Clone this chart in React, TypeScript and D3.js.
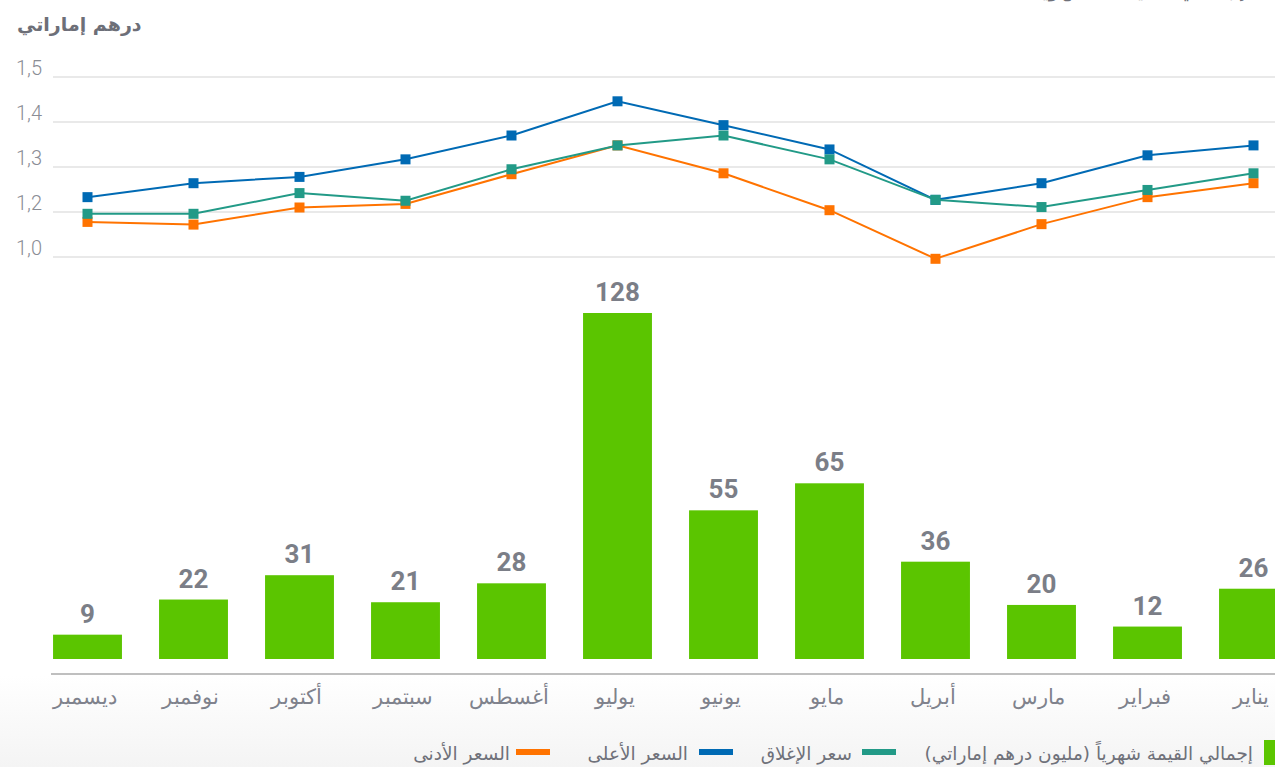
import React from "react";
import * as d3 from "d3";

const months = ["ديسمبر", "نوفمبر", "أكتوبر", "سبتمبر", "أغسطس", "يوليو", "يونيو", "مايو", "أبريل", "مارس", "فبراير", "يناير"];
const totals = [9, 22, 31, 21, 28, 128, 55, 65, 36, 20, 12, 26];
const highPrice = [1.233, 1.264, 1.278, 1.317, 1.37, 1.446, 1.393, 1.339, 1.227, 1.264, 1.326, 1.348];
const closePrice = [1.196, 1.196, 1.242, 1.225, 1.295, 1.348, 1.37, 1.317, 1.227, 1.211, 1.249, 1.286];
const lowPrice = [1.178, 1.172, 1.21, 1.218, 1.284, 1.348, 1.286, 1.204, 1.096, 1.173, 1.233, 1.264];
const priceTicks = [1.1, 1.2, 1.3, 1.4, 1.5];
const priceTickLabels = ["1,0", "1,2", "1,3", "1,4", "1,5"];
const legendLabels = ["إجمالي القيمة شهرياً (مليون درهم إماراتي)", "سعر الإغلاق", "السعر الأعلى", "السعر الأدنى"];

const GREEN = "#5bc500";
const BLUE = "#006ab4";
const TEAL = "#229a87";
const ORANGE = "#ff7300";
const ARABIC = "'DejaVu Sans', 'Noto Sans', sans-serif";

export default function App() {
  const W = 1275, H = 767;
  const x = d3.scaleBand<string>().domain(months).range([34.5, 1306.5]).paddingInner(0.35).paddingOuter(0.175);
  const yBar = d3.scaleLinear().domain([0, 128]).range([659, 313]);
  const yPrice = d3.scaleLinear().domain([1.1, 1.5]).range([257, 77]);
  const cx = (i: number) => (x(months[i]) as number) + x.bandwidth() / 2;
  const line = d3.line<number>().x((_, i) => cx(i)).y((d) => yPrice(d));

  const series = [
    { vals: lowPrice, color: ORANGE },
    { vals: highPrice, color: BLUE },
    { vals: closePrice, color: TEAL },
  ];

  return (
    <svg width={W} height={H} style={{ position: "fixed", left: 0, top: 0, background: "#fff" }}>
      <defs>
        <linearGradient id="bg" x1="0" y1="0" x2="0" y2="1">
          <stop offset="0" stopColor="#ffffff" />
          <stop offset="1" stopColor="#f4f4f4" />
        </linearGradient>
      </defs>
      <rect x={0} y={676} width={W} height={H - 676} fill="url(#bg)" />
      {/* partially visible heading at the top edge */}
      <text x={1245} y={-3} textAnchor="end" fontFamily={ARABIC} fontWeight={700} fontSize={19} fill="#6f717a">
        إجمالي القيمة الشهرية
      </text>
      <text x={17} y={31} fontFamily={ARABIC} fontWeight={700} fontSize={19} fill="#6d6f78" textAnchor="start">
        درهم إماراتي
      </text>
      {/* price gridlines */}
      {priceTicks.map((t, i) => (
        <g key={t}>
          <line x1={53} x2={W} y1={yPrice(t)} y2={yPrice(t)} stroke="#e2e2e2" strokeWidth={1.5} />
          <text x={16} y={yPrice(t) - 2} fontFamily="Roboto, sans-serif" fontWeight={300} fontSize={20} fill="#8a8d95">
            {priceTickLabels[i]}
          </text>
        </g>
      ))}
      {/* bars */}
      {totals.map((v, i) => (
        <g key={months[i]}>
          <rect x={x(months[i])} y={yBar(v)} width={x.bandwidth()} height={yBar(0) - yBar(v)} fill={GREEN} />
          <text x={cx(i)} y={yBar(v) - 12} textAnchor="middle" fontFamily="Roboto, sans-serif" fontWeight={700} fontSize={26} fill="#7b7e87">
            {v}
          </text>
          <text x={cx(i) - 3} y={704} textAnchor="middle" fontFamily={ARABIC} fontWeight={300} fontSize={21} fill="#7f828c">
            {months[i]}
          </text>
        </g>
      ))}
      <line x1={51} x2={W} y1={674} y2={674} stroke="#bfbfbf" strokeWidth={2} />
      {/* lines */}
      {series.map((s) => (
        <g key={s.color}>
          <path d={line(s.vals) as string} fill="none" stroke={s.color} strokeWidth={2} />
          {s.vals.map((v, i) => (
            <rect key={i} x={cx(i) - 5} y={yPrice(v) - 5} width={10} height={10} fill={s.color} />
          ))}
        </g>
      ))}
      {/* legend */}
      <g fontFamily={ARABIC} fontSize={18.5} fill="#6f717a">
        <rect x={1264} y={740} width={25} height={25} fill={GREEN} />
        <text x={1253} y={760} textAnchor="end">{legendLabels[0]}</text>
        <rect x={862} y={749} width={34} height={6} fill={TEAL} />
        <text x={852} y={760} textAnchor="end">{legendLabels[1]}</text>
        <rect x={699} y={749} width={34} height={6} fill={BLUE} />
        <text x={688} y={760} textAnchor="end">{legendLabels[2]}</text>
        <rect x={516} y={749} width={34} height={6} fill={ORANGE} />
        <text x={510} y={760} textAnchor="end">{legendLabels[3]}</text>
      </g>
    </svg>
  );
}
